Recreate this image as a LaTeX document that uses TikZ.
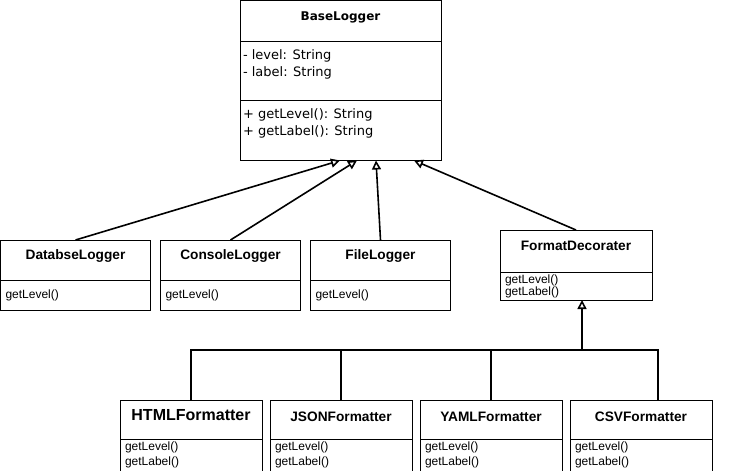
\documentclass[tikz,border=0pt]{standalone}
\usepackage{fontspec}
\setmainfont{Liberation Sans}
\newfontfamily\basefont{DejaVu Sans}
\usetikzlibrary{arrows.meta, positioning}

\tikzset{
  box/.style={draw, line width=0.9pt, outer sep=0pt, inner xsep=5pt, inner ysep=4pt},
  ctitle/.style={box, font=\fontsize{13.7}{16}\selectfont\bfseries},
  cbody/.style={box, font=\fontsize{12}{12}\selectfont, align=left, inner ysep=2pt},
  inherit/.style={-{Triangle[open, length=9pt, width=9pt]}, line width=1.6pt},
  tree/.style={line width=1.6pt},
}

\begin{document}
\begin{tikzpicture}[x=1pt, y=1pt]
\useasboundingbox (0,0) rectangle (731,-471);

% base class
\node[box, font=\basefont\fontsize{12}{14}\selectfont\bfseries, minimum width=201pt, text height=15.5pt, text depth=17.5pt, anchor=north] (base) at (340.5,-0.5) {BaseLogger};
\node[box, font=\basefont\fontsize{13}{17}\selectfont, inner xsep=3pt, inner ysep=8.5pt, below=0pt of base] (baseattr) {\parbox[c][42pt][t]{195pt}{- level: String\\- label: String}};
\node[box, font=\basefont\fontsize{13}{17}\selectfont, inner xsep=3pt, inner ysep=8.5pt, below=0pt of baseattr] (basemeth) {\parbox[c][43pt][t]{195pt}{+ getLevel(): String\\+ getLabel(): String}};

% loggers
\node[ctitle, minimum width=150pt, text height=15.5pt, text depth=16.5pt, anchor=north west] (db) at (0.5,-240) {DatabseLogger};
\node[cbody, text width=140pt, minimum height=30pt, below=0pt of db] (dbbody) {getLevel()};
\node[ctitle, minimum width=140pt, text height=15.5pt, text depth=16.5pt, right=10pt of db] (console) {ConsoleLogger};
\node[cbody, text width=130pt, minimum height=30pt, below=0pt of console] (consolebody) {getLevel()};
\node[ctitle, minimum width=140pt, text height=15.5pt, text depth=16.5pt, right=10pt of console] (file) {FileLogger};
\node[cbody, text width=130pt, minimum height=30pt, below=0pt of file] (filebody) {getLevel()};

% decorator
\node[ctitle, minimum width=152pt, text height=16pt, text depth=18pt, anchor=north west] (fd) at (500,-230) {FormatDecorater};
\node[cbody, text width=142pt, minimum height=28pt, below=0pt of fd] (fdbody) {getLevel()\\getLabel()};

% formatters
\node[ctitle, minimum width=142pt, font=\fontsize{16}{18}\selectfont\bfseries, text height=16pt, text depth=15pt, anchor=north west] (html) at (120,-400) {HTMLFormatter};
\node[cbody, text width=132pt, minimum height=32pt, font=\fontsize{12}{15}\selectfont, below=0pt of html] (htmlbody) {getLevel()\\getLabel()};
\node[ctitle, minimum width=142pt, text height=17.5pt, text depth=13.5pt, right=8pt of html] (json) {JSONFormatter};
\node[cbody, text width=132pt, minimum height=32pt, font=\fontsize{12}{15}\selectfont, below=0pt of json] (jsonbody) {getLevel()\\getLabel()};
\node[ctitle, minimum width=142pt, text height=17.5pt, text depth=13.5pt, right=8pt of json] (yaml) {YAMLFormatter};
\node[cbody, text width=132pt, minimum height=32pt, font=\fontsize{12}{15}\selectfont, below=0pt of yaml] (yamlbody) {getLevel()\\getLabel()};
\node[ctitle, minimum width=142pt, text height=17.5pt, text depth=13.5pt, right=8pt of yaml] (csv) {CSVFormatter};
\node[cbody, text width=132pt, minimum height=32pt, font=\fontsize{12}{15}\selectfont, below=0pt of csv] (csvbody) {getLevel()\\getLabel()};

% inheritance
\draw[inherit] (db.north) -- ([xshift=-0.5pt]basemeth.south);
\draw[inherit] (console.north) -- ([xshift=16.5pt]basemeth.south);
\draw[inherit] (file.north) -- ([xshift=35.5pt]basemeth.south);
\draw[inherit] (fd.north) -- ([xshift=73.5pt]basemeth.south);

\path (html.north) ++(0,50) coordinate (bus);
\draw[tree] (html.north) |- ([xshift=17pt]csv.north |- bus) -- ([xshift=17pt]csv.north);
\draw[tree] (json.north) -- (json.north |- bus);
\draw[tree] (yaml.north) -- (yaml.north |- bus);
\draw[inherit] ([xshift=6pt]fdbody.south |- bus) -- ([xshift=6pt]fdbody.south);
\end{tikzpicture}
\end{document}
